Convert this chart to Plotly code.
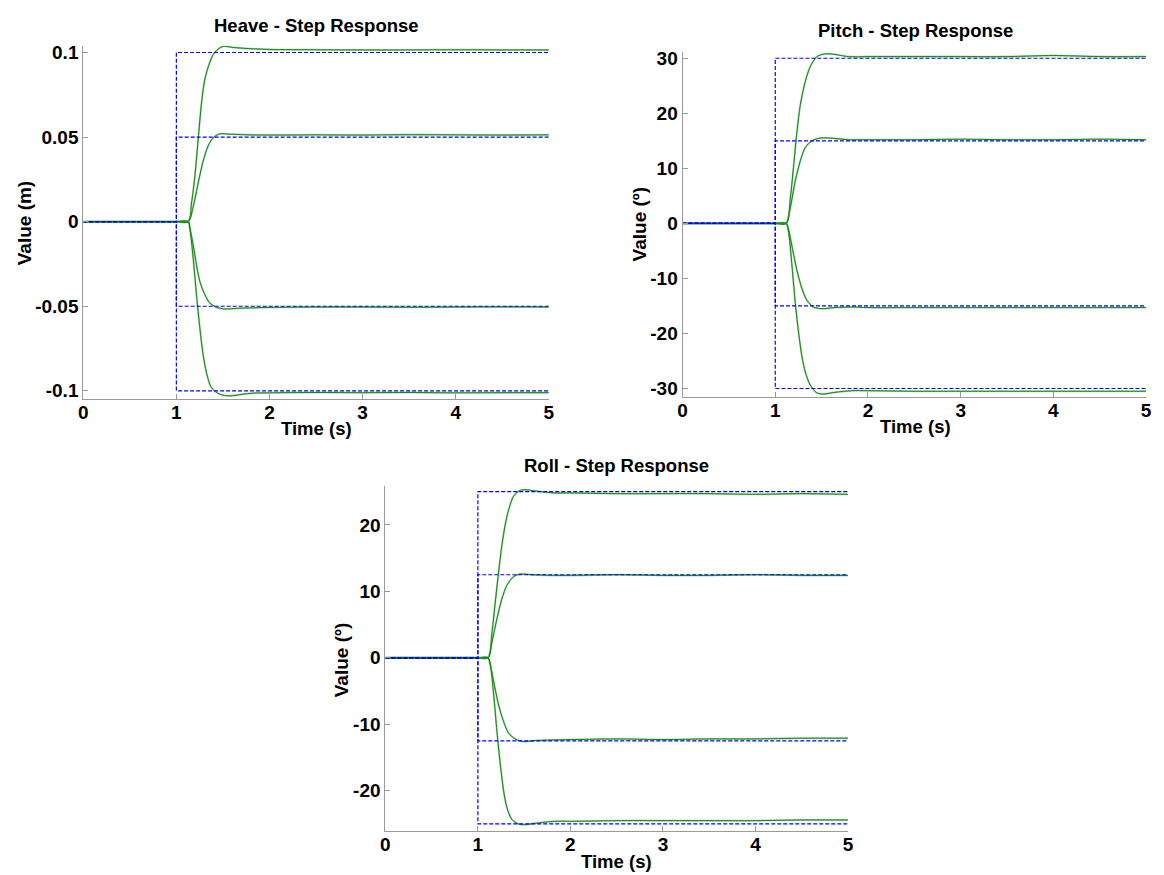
import plotly.graph_objects as go

# ---------------- data ----------------
step_time = 1.0
end_time = 5.0

heave_targets = [0.1, 0.05, -0.05, -0.1]
pitch_targets = [30, 15, -15, -30]
roll_targets = [25, 12.5, -12.5, -25]

# Heave responses
heave_t_p100 = [0, 0.5, 1.0, 1.128, 1.163, 1.199, 1.234, 1.27, 1.305, 1.358, 1.411, 1.50, 1.606, 1.748, 2.0, 2.5, 3.0, 3.5, 4.0, 4.5, 5.0]
heave_v_p100 = [0, 0, 0, 0, 0.011, 0.027, 0.0485, 0.070, 0.084, 0.094, 0.100, 0.1036, 0.1030, 0.1024, 0.1018, 0.1016, 0.1015, 0.1015, 0.1016, 0.1015, 0.1015]
heave_t_p050 = [0, 0.5, 1.0, 1.128, 1.181, 1.234, 1.287, 1.34, 1.394, 1.465, 1.57, 1.78, 2.0, 2.5, 3.0, 3.5, 4.0, 4.5, 5.0]
heave_v_p050 = [0, 0, 0, 0, 0.0089, 0.0228, 0.0356, 0.0446, 0.0495, 0.0519, 0.0517, 0.0513, 0.0512, 0.0513, 0.0512, 0.0514, 0.0513, 0.0512, 0.0513]
heave_t_m050 = [0, 0.5, 1.0, 1.128, 1.145, 1.181, 1.216, 1.252, 1.305, 1.358, 1.429, 1.518, 1.677, 2.0, 2.5, 3.0, 3.5, 4.0, 4.5, 5.0]
heave_v_m050 = [0, 0, 0, 0, -0.0039, -0.0138, -0.0255, -0.0353, -0.0431, -0.048, -0.0506, -0.0516, -0.0512, -0.0507, -0.0505, -0.0505, -0.0506, -0.0505, -0.0504, -0.0505]
heave_t_m100 = [0, 0.5, 1.0, 1.128, 1.145, 1.181, 1.216, 1.252, 1.287, 1.323, 1.376, 1.465, 1.571, 1.713, 1.82, 2.0, 2.5, 3.0, 3.5, 4.0, 4.5, 5.0]
heave_v_m100 = [0, 0, 0, 0, -0.0039, -0.0216, -0.0432, -0.0628, -0.0785, -0.0892, -0.0981, -0.1020, -0.1030, -0.1020, -0.1014, -0.1012, -0.1010, -0.1011, -0.1010, -0.1012, -0.1011, -0.1011]

# Pitch responses
pitch_t_p30 = [0, 0.5, 1.0, 1.118, 1.164, 1.2, 1.235, 1.271, 1.324, 1.378, 1.449, 1.538, 1.645, 1.788, 2.0, 2.5, 3.0, 3.5, 4.0, 4.5, 5.0]
pitch_v_p30 = [0, 0, 0, 0, 4.8, 10.8, 16.8, 21.6, 25.8, 28.5, 30.3, 30.8, 30.7, 30.3, 30.3, 30.3, 30.3, 30.3, 30.5, 30.3, 30.3]
pitch_t_p15 = [0, 0.5, 1.0, 1.118, 1.164, 1.217, 1.271, 1.324, 1.395, 1.485, 1.592, 1.788, 2.0, 2.5, 3.0, 3.5, 4.0, 4.5, 5.0]
pitch_v_p15 = [0, 0, 0, 0, 3.0, 7.8, 11.4, 13.8, 15.0, 15.5, 15.5, 15.2, 15.2, 15.2, 15.3, 15.2, 15.2, 15.3, 15.2]
pitch_t_m15 = [0, 0.5, 1.0, 1.118, 1.146, 1.182, 1.235, 1.289, 1.342, 1.413, 1.503, 1.645, 1.824, 2.0, 2.5, 3.0, 3.5, 4.0, 4.5, 5.0]
pitch_v_m15 = [0, 0, 0, 0, -1.3, -4.3, -8.6, -11.9, -14.0, -15.2, -15.5, -15.3, -15.2, -15.3, -15.3, -15.3, -15.3, -15.3, -15.3, -15.3]
pitch_t_m30 = [0, 0.5, 1.0, 1.118, 1.146, 1.182, 1.217, 1.253, 1.289, 1.324, 1.378, 1.449, 1.521, 1.645, 1.824, 2.0, 2.5, 3.0, 3.5, 4.0, 4.5, 5.0]
pitch_v_m30 = [0, 0, 0, 0, -1.9, -8.0, -14.6, -20.0, -24.3, -27.0, -29.4, -30.8, -31.0, -30.7, -30.4, -30.4, -30.5, -30.5, -30.5, -30.5, -30.5, -30.5]

# Roll responses
roll_t_p25 = [0, 0.5, 1.0, 1.11, 1.153, 1.188, 1.224, 1.26, 1.295, 1.331, 1.385, 1.456, 1.51, 1.617, 1.831, 2.0, 2.5, 3.0, 3.5, 4.0, 4.5, 5.0]
roll_v_p25 = [0, 0, 0, 0, 3.9, 8.4, 12.9, 17.0, 20.0, 22.2, 24.3, 25.2, 25.3, 25.1, 24.8, 24.8, 24.7, 24.7, 24.7, 24.6, 24.7, 24.6]
roll_t_p125 = [0, 0.5, 1.0, 1.11, 1.153, 1.206, 1.26, 1.313, 1.385, 1.456, 1.581, 1.831, 2.0, 2.5, 3.0, 3.5, 4.0, 4.5, 5.0]
roll_v_p125 = [0, 0, 0, 0, 2.4, 5.9, 8.9, 10.9, 12.2, 12.6, 12.5, 12.4, 12.4, 12.5, 12.4, 12.4, 12.5, 12.4, 12.4]
roll_t_m125 = [0, 0.5, 1.0, 1.11, 1.135, 1.171, 1.224, 1.278, 1.331, 1.402, 1.492, 1.617, 1.831, 2.0, 2.5, 3.0, 3.5, 4.0, 4.5, 5.0]
roll_v_m125 = [0, 0, 0, 0, -1.1, -3.6, -7.1, -9.6, -11.3, -12.2, -12.6, -12.45, -12.35, -12.3, -12.2, -12.3, -12.2, -12.2, -12.1, -12.1]
roll_t_m25 = [0, 0.5, 1.0, 1.11, 1.135, 1.171, 1.206, 1.242, 1.278, 1.313, 1.367, 1.438, 1.51, 1.617, 1.831, 2.0, 2.5, 3.0, 3.5, 4.0, 4.5, 5.0]
roll_v_m25 = [0, 0, 0, 0, -1.1, -5.6, -11.1, -16.0, -20.0, -22.5, -24.3, -25.0, -25.1, -24.9, -24.6, -24.6, -24.5, -24.5, -24.5, -24.5, -24.4, -24.4]

# Tick labels
x_tickvals = [0, 1, 2, 3, 4, 5]
x_ticktext = ["0", "1", "2", "3", "4", "5"]
heave_tickvals = [-0.1, -0.05, 0, 0.05, 0.1]
heave_ticktext = ["-0.1", "-0.05", "0", "0.05", "0.1"]
pitch_tickvals = [-30, -20, -10, 0, 10, 20, 30]
pitch_ticktext = ["-30", "-20", "-10", "0", "10", "20", "30"]
roll_tickvals = [-20, -10, 0, 10, 20]
roll_ticktext = ["-20", "-10", "0", "10", "20"]

# ---------------- figure ----------------
W, H = 1164, 875
FONT = "Liberation Sans, Arial, sans-serif"
GREEN = "rgb(20,130,20)"
BLUE = "rgb(0,0,255)"
AXCOL = "#9a9a9a"

fig = go.Figure()

panels = [
    ("x", "y", heave_targets, [(heave_t_p100, heave_v_p100), (heave_t_p050, heave_v_p050),
                               (heave_t_m050, heave_v_m050), (heave_t_m100, heave_v_m100)]),
    ("x2", "y2", pitch_targets, [(pitch_t_p30, pitch_v_p30), (pitch_t_p15, pitch_v_p15),
                                 (pitch_t_m15, pitch_v_m15), (pitch_t_m30, pitch_v_m30)]),
    ("x3", "y3", roll_targets, [(roll_t_p25, roll_v_p25), (roll_t_p125, roll_v_p125),
                                (roll_t_m125, roll_v_m125), (roll_t_m25, roll_v_m25)]),
]

for xa, ya, targets, curves in panels:
    for t, v in curves:
        fig.add_trace(go.Scatter(x=t, y=v, xaxis=xa, yaxis=ya, mode="lines",
                                 line=dict(color="rgba(70,170,70,0.45)", width=2.0, shape="spline", smoothing=0.8),
                                 showlegend=False, hoverinfo="skip"))
        fig.add_trace(go.Scatter(x=t, y=v, xaxis=xa, yaxis=ya, mode="lines",
                                 line=dict(color=GREEN, width=1.0, shape="spline", smoothing=0.8),
                                 showlegend=False))
    for r in targets:
        fig.add_trace(go.Scatter(x=[0, step_time, step_time, end_time], y=[0, 0, r, r],
                                 xaxis=xa, yaxis=ya, mode="lines",
                                 line=dict(color=BLUE, width=1.2, dash="4px,2px"),
                                 showlegend=False))


def px_x(p):
    return p / W


def px_y(p):
    return 1 - p / H


tickfont = dict(family=FONT, size=19, color="black", weight="bold")


def xaxis(domain, anchor):
    return dict(domain=domain, anchor=anchor, range=[0, 5], tickvals=x_tickvals, ticktext=x_ticktext,
                showline=True, linecolor=AXCOL, linewidth=1, ticks="inside", ticklen=5, tickcolor=AXCOL,
                showgrid=False, zeroline=False, tickfont=tickfont, mirror=False, fixedrange=True,
                ticklabelstandoff=-4)


def yaxis(domain, anchor, rng, tv, tt):
    return dict(domain=domain, anchor=anchor, range=rng, tickvals=tv, ticktext=tt,
                showline=True, linecolor=AXCOL, linewidth=1, ticks="inside", ticklen=5, tickcolor=AXCOL,
                showgrid=False, zeroline=False, tickfont=tickfont, mirror=False, fixedrange=True)


# pixel boxes (left, right, top, bottom)
heave_box = (79, 549, 42, 398)
pitch_box = (684, 1152, 48, 396)
roll_box = (384, 851, 485, 833)

fig.update_layout(
    width=W, height=H, margin=dict(l=0, r=0, t=0, b=0),
    paper_bgcolor="white", plot_bgcolor="white",
    xaxis=xaxis([px_x(heave_box[0]), px_x(heave_box[1])], "y"),
    yaxis=yaxis([px_y(heave_box[3]), px_y(heave_box[2])], "x", [-0.105, 0.104], heave_tickvals, heave_ticktext),
    xaxis2=xaxis([px_x(pitch_box[0]), px_x(pitch_box[1])], "y2"),
    yaxis2=yaxis([px_y(pitch_box[3]), px_y(pitch_box[2])], "x2", [-31.6, 31.2], pitch_tickvals, pitch_ticktext),
    xaxis3=xaxis([px_x(roll_box[0]), px_x(roll_box[1])], "y3"),
    yaxis3=yaxis([px_y(roll_box[3]), px_y(roll_box[2])], "x3", [-26.1, 25.9], roll_tickvals, roll_ticktext),
)

ann = []


def label(text, x, y, size=18.5, angle=0):
    ann.append(dict(text=text, x=px_x(x), y=px_y(y), xref="paper", yref="paper", showarrow=False,
                    xanchor="center", yanchor="middle", textangle=angle,
                    font=dict(family=FONT, size=size, color="black", weight="bold")))


label("Heave - Step Response", 314, 22)
label("Pitch - Step Response", 919, 27)
label("Roll - Step Response", 617, 465)
label("Time (s)", 314, 427)
label("Time (s)", 919, 425)
label("Time (s)", 617, 863)
label("Value (m)", 20, 221, size=19, angle=-90)
label("Value (º)", 641, 221, size=19, angle=-90)
label("Value (º)", 340, 660, size=19, angle=-90)

fig.update_layout(annotations=ann)

fig.write_html("out.html")
